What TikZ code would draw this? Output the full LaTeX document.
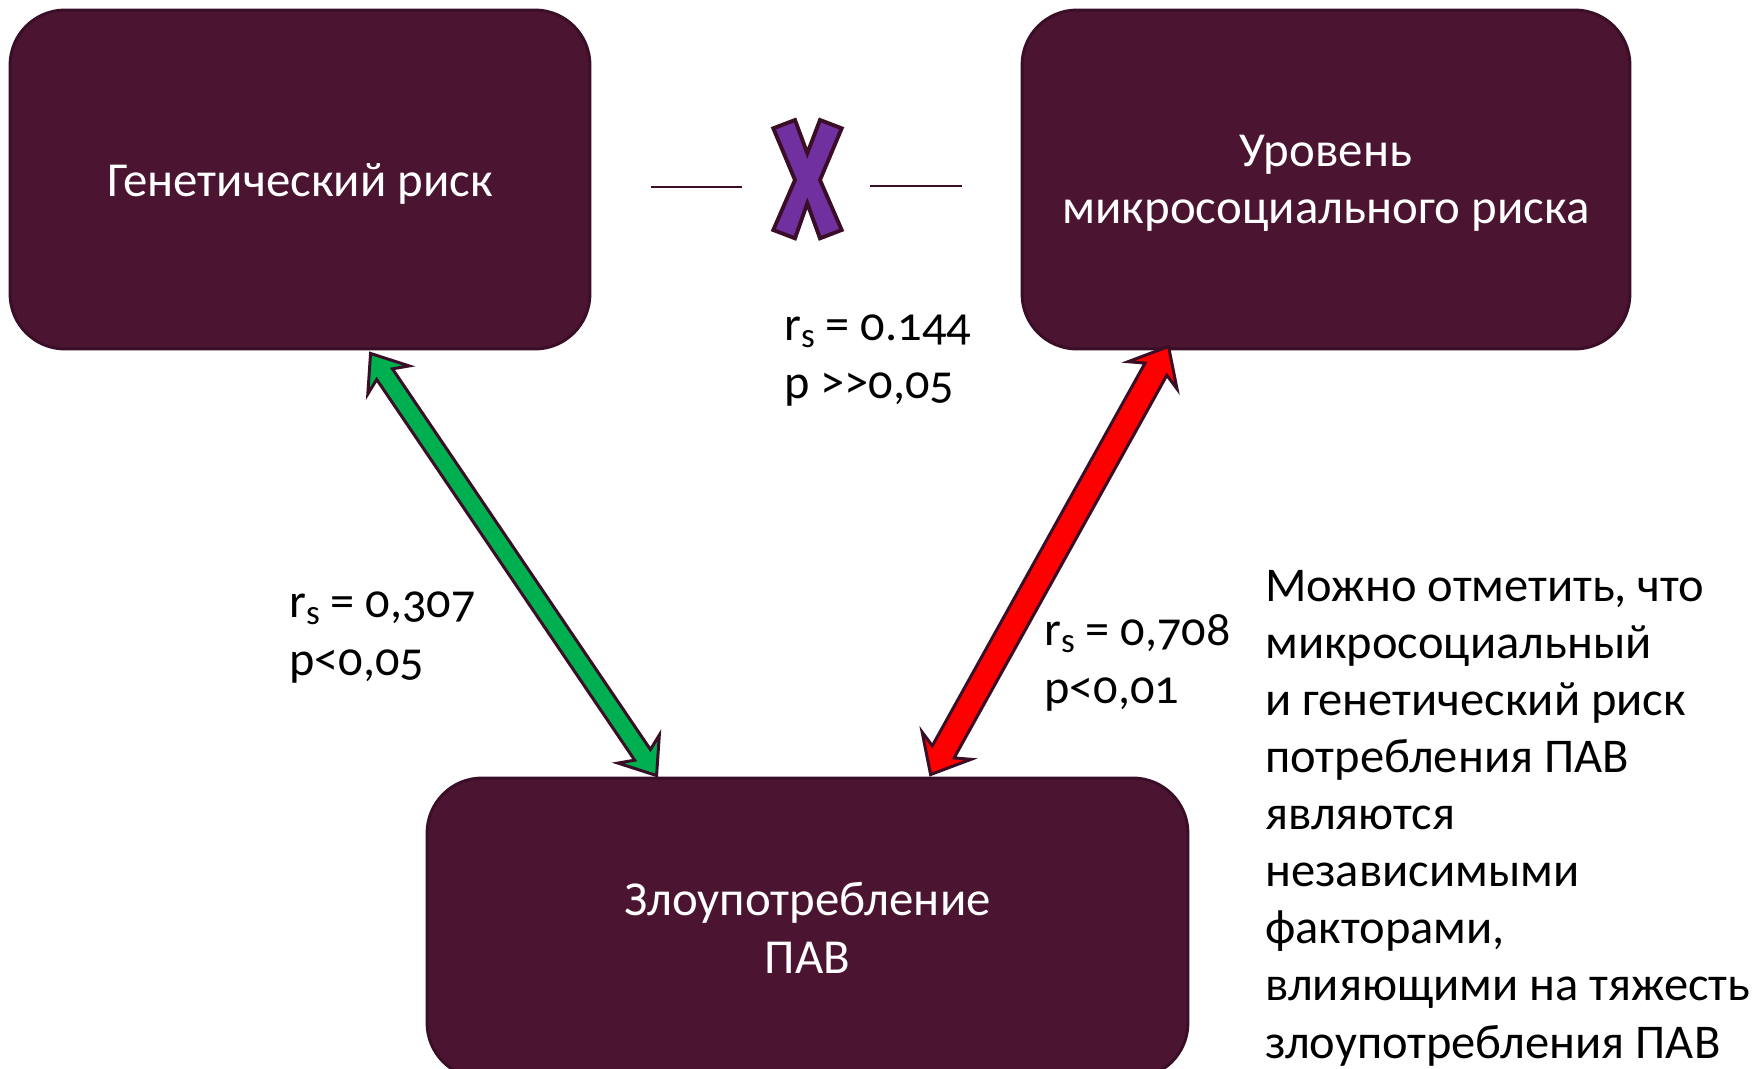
\documentclass[tikz,border=0pt]{standalone}
\usepackage{fontspec}
\setmainfont{Carlito}
\newfontfamily\numfont[Numbers=OldStyle]{Carlito}
\usetikzlibrary{calc}
\definecolor{boxfill}{HTML}{4B1532}
\definecolor{boxline}{HTML}{3A0E26}
\definecolor{xpurple}{HTML}{7030A0}
\definecolor{agreen}{HTML}{00B050}
\definecolor{ared}{HTML}{FF0000}
% #1 tip A, #2 tip B, #3 shaft half width, #4 head half width, #5 head length, #6 notch, #7 colour
\newcommand{\fatarrow}[7]{%
  \filldraw[fill=#7, draw=boxline, line width=1.7pt, line join=miter]
    (#1)
    -- ($(#1)!#5!(#2)!#4!90:(#2)$)
    -- ($(#1)!#6!(#2)!#3!90:(#2)$)
    -- ($(#2)!#6!(#1)!#3!-90:(#1)$)
    -- ($(#2)!#5!(#1)!#4!-90:(#1)$)
    -- (#2)
    -- ($(#2)!#5!(#1)!#4!90:(#1)$)
    -- ($(#2)!#6!(#1)!#3!90:(#1)$)
    -- ($(#1)!#6!(#2)!#3!-90:(#2)$)
    -- ($(#1)!#5!(#2)!#4!-90:(#2)$)
    -- cycle;}
\newcommand{\rsub}{r\raisebox{-0.28ex}{\fontsize{20}{20}\selectfont s}}
\tikzset{
  box/.style={draw=boxline, fill=boxfill, line width=1.7pt, rounded corners=1.1cm,
    inner sep=0pt, text=white, align=center, font=\fontsize{27.8}{32.6}\selectfont},
  lbl/.style={anchor=base west, inner sep=0pt, align=left, font=\numfont\fontsize{27.5}{32.6}\selectfont},
  para/.style={anchor=base west, inner sep=0pt, align=left, font=\fontsize{27.6}{32.5}\selectfont},
  link/.style={draw=boxline, line width=1.7pt}
}
\begin{document}
\begin{tikzpicture}[x=0.02cm, y=-0.02cm]
\clip (0,0) rectangle (1756,1069);
\fill[white] (0,0) rectangle (1756,1069);

\node[box, minimum width=11.6cm, minimum height=6.78cm, text height=0.76cm, text depth=0.1cm] (gen) at (300,179.5) {Генетический риск};
\node[box, minimum width=12.16cm, minimum height=6.78cm, text depth=0pt] (micro) at (1326,179.5) {Уровень\\микросоциального риска};
\node[box, minimum width=15.22cm, minimum height=6.0cm] (abuse) at (807.5,928) {Злоупотребление\\ПАВ};

% X mark
\filldraw[fill=xpurple, draw=boxline, line width=2.2pt, line join=miter]
  (773.3,128.3) -- (795,120) -- (807.3,153.3) -- (820,120) -- (841.7,128.3)
  -- (820,180) -- (841.7,230) -- (820,238.3) -- (807.3,203.3) -- (795,238.3)
  -- (773.3,230) -- (795,180) -- cycle;
\coordinate (la) at (651,187);
\coordinate (lb) at (742,187);
\coordinate (ra) at (870,186);
\coordinate (rb) at (962,186);
\draw[link] (la) -- (lb);
\draw[link] (ra) -- (rb);

% arrows
\coordinate (ga) at ($(gen.south west)+(362,3)$);
\coordinate (gb) at ($(abuse.north west)+(231,-1)$);
\coordinate (ka) at ($(micro.south west)+(148,-4)$);
\coordinate (kb) at ($(abuse.north west)+(505,-2)$);
\fatarrow{ga}{gb}{0.19cm}{0.5cm}{0.64cm}{0.5cm}{agreen}
\fatarrow{ka}{kb}{0.25cm}{0.56cm}{0.66cm}{0.52cm}{ared}

% labels (base anchor = last line)
\node[lbl] (l0) at (784,398) {\rsub{} = 0.144\\p >>0,05};
\node[lbl] (l1) at (289,675) {\rsub{} = 0,307\\p<0,05};
\node[lbl] (l2) at (1044,703) {\rsub{} = 0,708\\p<0,01};
\node[para] (txt) at (1265,1058) {Можно отметить, что\\микросоциальный\\и генетический риск\\потребления ПАВ\\являются\\независимыми\\факторами,\\влияющими на тяжесть\\злоупотребления ПАВ};
\end{tikzpicture}
\end{document}
